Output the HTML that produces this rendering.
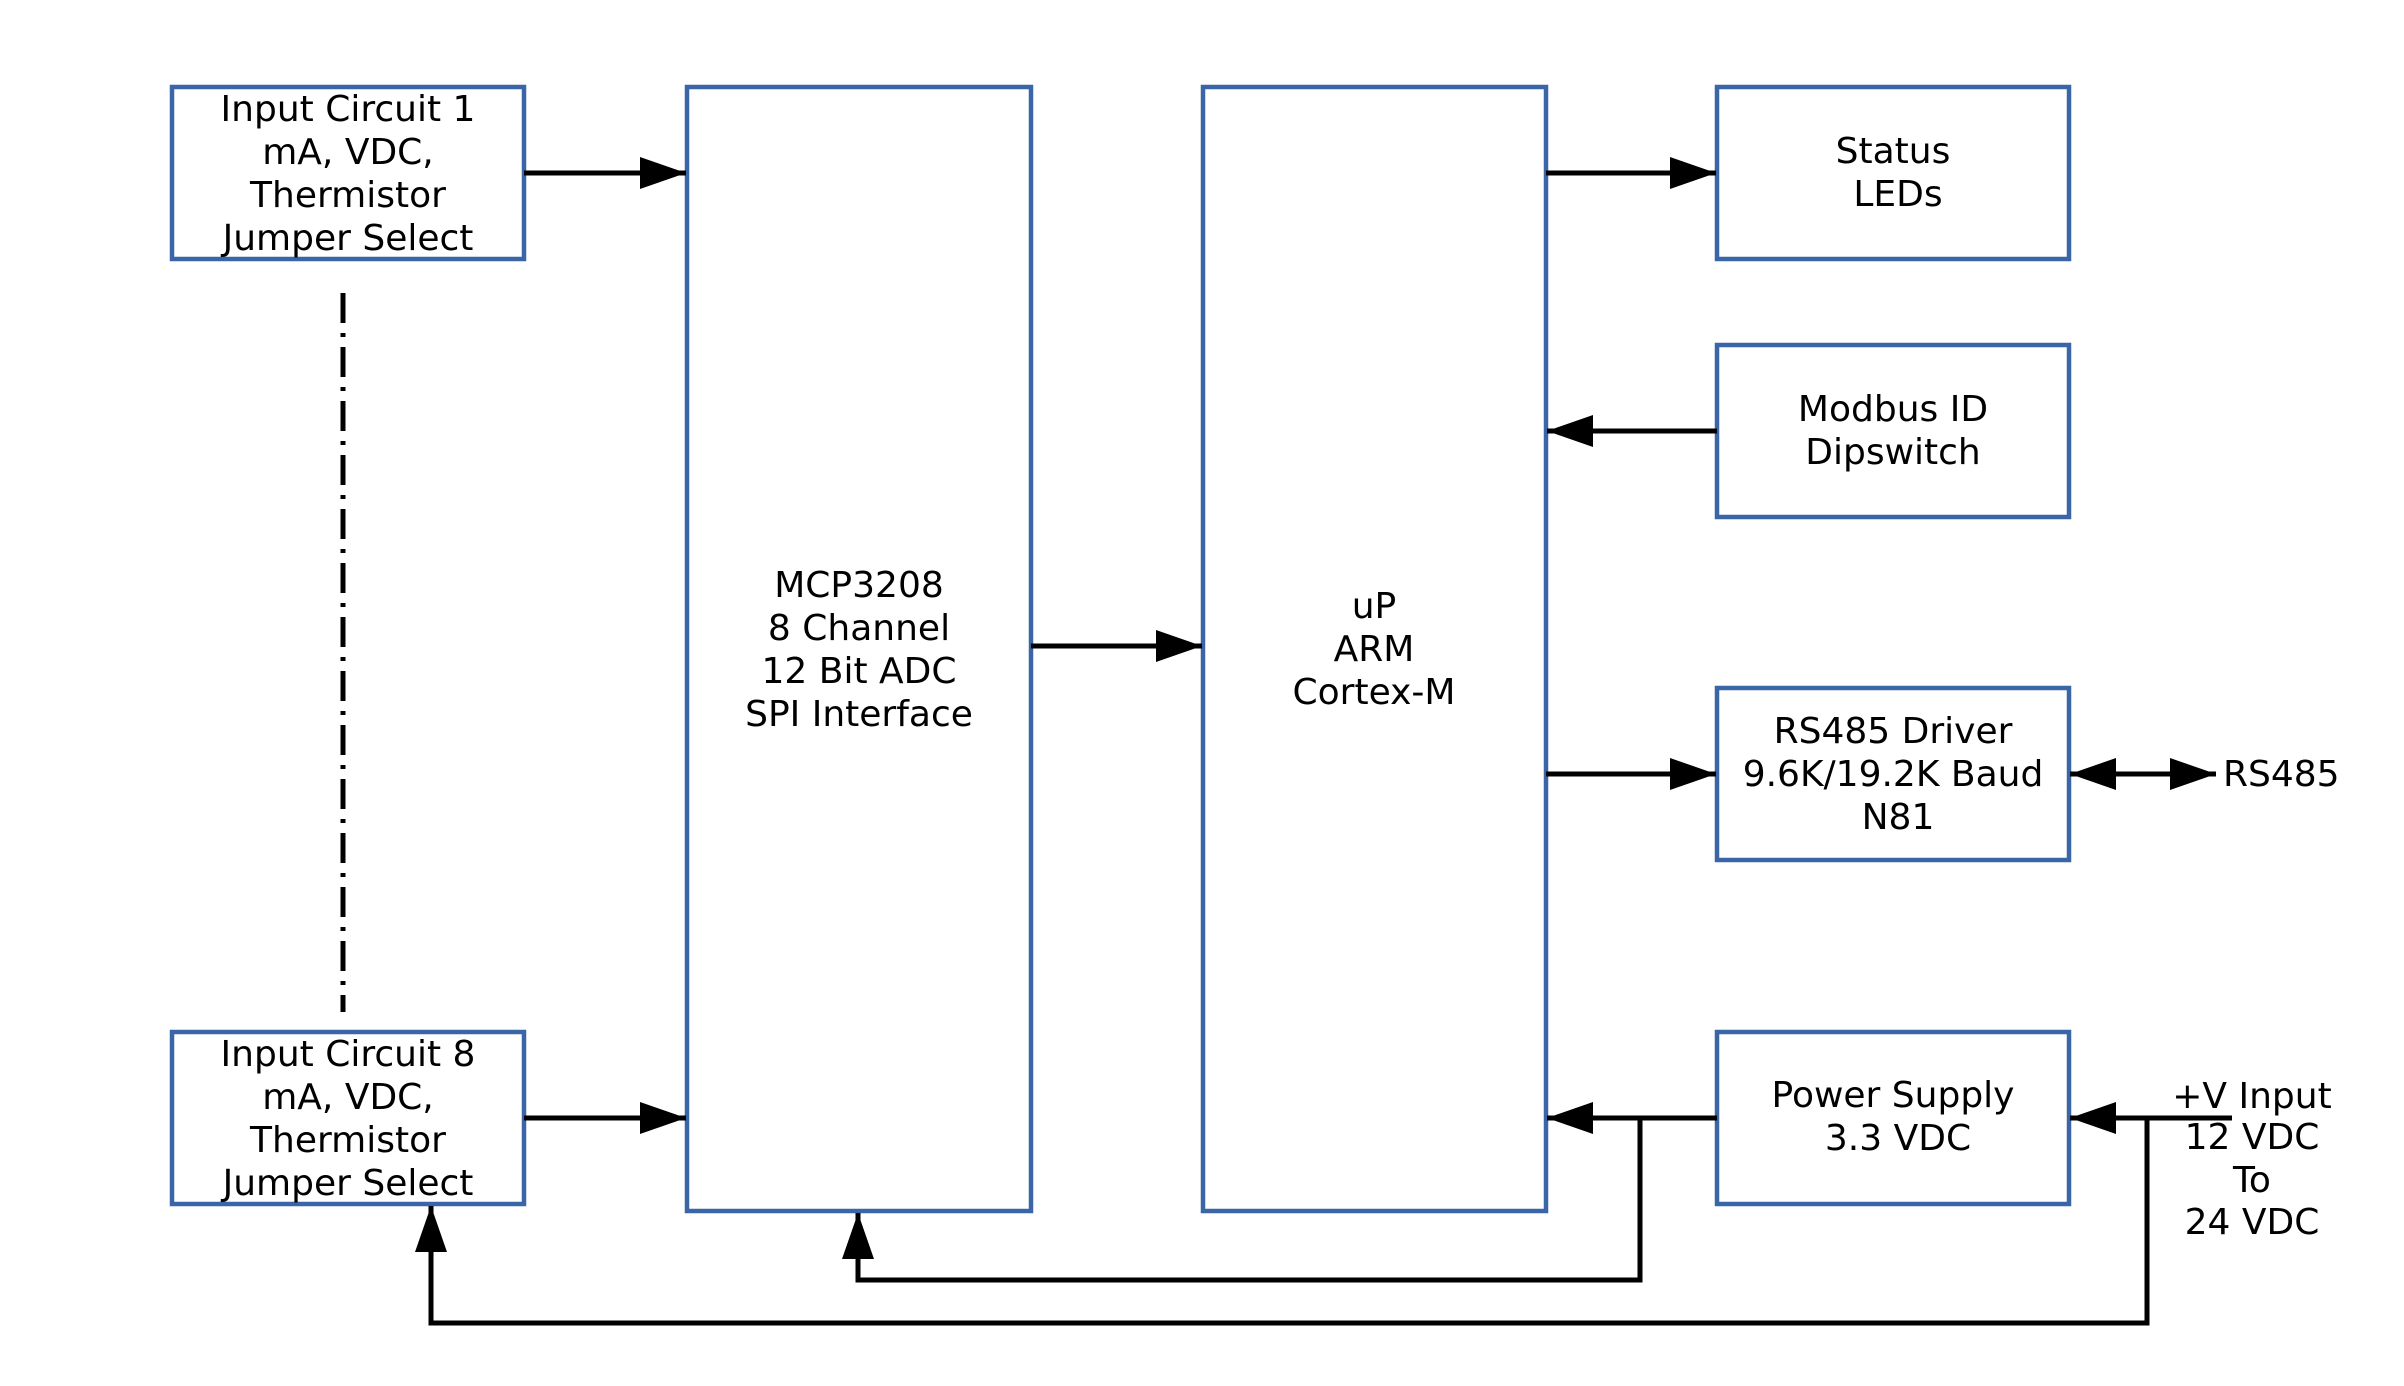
<!DOCTYPE html>
<html><head><meta charset="utf-8"><style>html,body{margin:0;padding:0;background:#fff}svg{display:block}</style></head>
<body>
<svg width="2404" height="1386" viewBox="0 0 2404 1386" xmlns="http://www.w3.org/2000/svg" font-family="DejaVu Sans, Liberation Sans, sans-serif" font-size="36">
<defs>
<marker id="a" markerUnits="userSpaceOnUse" markerWidth="48" markerHeight="32" refX="46" refY="16" orient="auto"><path d="M0,0 L46,16 L0,32 Z" fill="#000"/></marker>
</defs>
<g fill="none" stroke="#3a66a8" stroke-width="4.5">
<rect x="172" y="87" width="352" height="172"/>
<rect x="172" y="1032" width="352" height="172"/>
<rect x="687" y="87" width="344" height="1124"/>
<rect x="1203" y="87" width="343" height="1124"/>
<rect x="1717" y="87" width="352" height="172"/>
<rect x="1717" y="345" width="352" height="172"/>
<rect x="1717" y="688" width="352" height="172"/>
<rect x="1717" y="1032" width="352" height="172"/>
</g>
<g stroke="#000" stroke-width="5" fill="none">
<line x1="524" y1="173" x2="686" y2="173" marker-end="url(#a)"/>
<line x1="524" y1="1118" x2="686" y2="1118" marker-end="url(#a)"/>
<line x1="1031" y1="646" x2="1202" y2="646" marker-end="url(#a)"/>
<line x1="1546" y1="173" x2="1716" y2="173" marker-end="url(#a)"/>
<line x1="1717" y1="431" x2="1547" y2="431" marker-end="url(#a)"/>
<line x1="1546" y1="774" x2="1716" y2="774" marker-end="url(#a)"/>
<line x1="1717" y1="1118" x2="1547" y2="1118" marker-end="url(#a)"/>
<line x1="2232" y1="1118" x2="2070" y2="1118" marker-end="url(#a)"/>
<line x1="2140" y1="774" x2="2070" y2="774" marker-end="url(#a)"/>
<line x1="2140" y1="774" x2="2216" y2="774" marker-end="url(#a)"/>
<polyline points="1640,1118 1640,1280 858,1280 858,1213" marker-end="url(#a)"/>
<polyline points="2147,1118 2147,1323 431,1323 431,1206" marker-end="url(#a)"/>
<line x1="343" y1="293" x2="343" y2="1012" stroke-dasharray="30,10,4,10"/>
</g>
<g text-anchor="middle" fill="#000">
<text x="348" y="121">Input Circuit 1</text><text x="348" y="164">mA, VDC,</text><text x="348" y="207">Thermistor</text><text x="348" y="250">Jumper Select</text>
<text x="348" y="1066">Input Circuit 8</text><text x="348" y="1109">mA, VDC,</text><text x="348" y="1152">Thermistor</text><text x="348" y="1195">Jumper Select</text>
<text x="859" y="597">MCP3208</text><text x="859" y="640">8 Channel</text><text x="859" y="683">12 Bit ADC</text><text x="859" y="726">SPI Interface</text>
<text x="1374" y="618">uP</text><text x="1374" y="661">ARM</text><text x="1374" y="704">Cortex-M</text>
<text x="1893" y="163">Status</text><text x="1898" y="206">LEDs</text>
<text x="1893" y="421">Modbus ID</text><text x="1893" y="464">Dipswitch</text>
<text x="1893" y="743">RS485 Driver</text><text x="1893" y="786">9.6K/19.2K Baud</text><text x="1898" y="829">N81</text>
<text x="1893" y="1107">Power Supply</text><text x="1898" y="1150">3.3 VDC</text>
<text x="2252" y="1108">+V Input</text><text x="2252" y="1149">12 VDC</text><text x="2252" y="1192">To</text><text x="2252" y="1234">24 VDC</text>
</g>
<text x="2223" y="786" fill="#000">RS485</text>
</svg>
</body></html>
